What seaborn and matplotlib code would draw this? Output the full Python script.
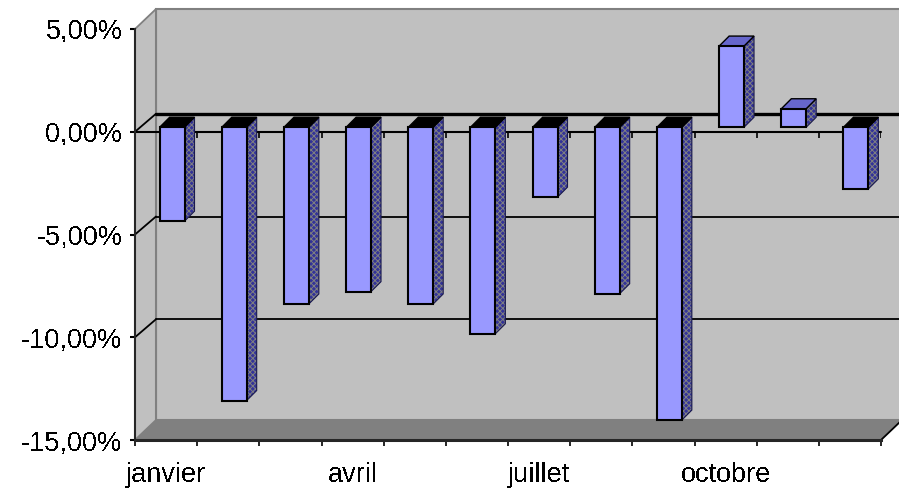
import numpy as np
import matplotlib
matplotlib.use('Agg')
import matplotlib.pyplot as plt
from matplotlib.patches import Polygon
from matplotlib.transforms import Affine2D, IdentityTransform
import seaborn as sns

months = ['janvier', 'février', 'mars', 'avril', 'mai', 'juin', 'juillet',
          'août', 'septembre', 'octobre', 'novembre', 'décembre']
values = [-4.57, -13.3, -8.6, -8.0, -8.6, -10.05, -3.4, -8.1, -14.25, 3.95, 0.9, -3.0]
y_ticks = [5, 0, -5, -10, -15]
y_labels = ['5,00%', '0,00%', '-5,00%', '-10,00%', '-15,00%']
shown_months = ['janvier', 'avril', 'juillet', 'octobre']

sns.set_style('white')
plt.rcParams['font.family'] = ['Liberation Sans', 'DejaVu Sans']
plt.rcParams['text.antialiased'] = False
plt.rcParams['hatch.linewidth'] = 0.7

fig = plt.figure(figsize=(8.99, 4.92), dpi=100, facecolor='white')
ax = fig.add_axes([135 / 899, 52 / 492, 746 / 899, 411 / 492], facecolor='none')

sns.barplot(x=months, y=values, color='#9999ff', width=0.4, saturation=1,
            edgecolor='black', linewidth=1.5, ax=ax, zorder=5)
bars = list(ax.patches)
ax.set_xlim(-0.5, 11.5)
ax.set_ylim(-15, 5)

# 3d box: back wall, left wall and floor
wall = ax.transData + Affine2D().translate(21, 20)
grid = ax.transData + Affine2D().translate(21, 18)
xl, xr = ax.get_xlim()
ax.add_patch(Polygon([(xl, -15), (xr, -15), (xr, 5), (xl, 5)], transform=wall, facecolor='#c0c0c0',
                     edgecolor='#808080', linewidth=1.5, clip_on=False, zorder=0))
corner = lambda x, y, off: ax.transData.transform((x, y)) + off
off = np.array([21, 20])
ax.add_patch(Polygon([corner(xl, -15, 0), corner(xl, 5, 0), corner(xl, 5, off), corner(xl, -15, off)],
                     transform=IdentityTransform(), facecolor='#c0c0c0', edgecolor='none', clip_on=False, zorder=0.5))
ax.add_patch(Polygon([corner(xl, -15, 0), corner(xr, -15, 0), corner(xr, -15, off), corner(xl, -15, off)],
                     transform=IdentityTransform(), facecolor='#808080', edgecolor='none', clip_on=False, zorder=0.5))
ax.plot([xl, xl], [-15, 5], color='#808080', lw=1.5, transform=wall, clip_on=False, zorder=1)

# grid lines on the back wall
ax.plot([xl, xr], [0, 0], color='black', lw=2.4, transform=grid, clip_on=False, zorder=1)
for v in [-5, -10]:
    ax.plot([xl, xr], [v, v], color='black', lw=1.3, transform=grid, clip_on=False, zorder=1)

# diagonals going from the axis to the wall
for v in y_ticks:
    a = corner(xl, v, 0)
    b = corner(xl, v, np.array([21, 18 if v in (0, -5, -10) else 20]))
    col = 'black' if v in (0, -5, -10) else '#808080'
    ax.plot([a[0], b[0]], [a[1], b[1]], color=col, lw=1.3, transform=IdentityTransform(),
            clip_on=False, zorder=1.5)
a = corner(xr, -15, 0)
b = corner(xr, -15, off)
ax.plot([a[0], b[0]], [a[1], b[1]], color='black', lw=1.3, transform=IdentityTransform(), clip_on=False, zorder=1.5)

# front zero line with its ticks
edges = np.arange(13) - 0.5
ax.plot([xl, xr], [0, 0], color='black', lw=1.5, zorder=2, clip_on=False)
ax.vlines(edges[1:], -0.3, 0, color='black', lw=1.2, zorder=2)

# bars: move the seaborn faces forward and add top and side faces
shift = Affine2D().translate(6, 4.5)
depth = 10
for p in bars:
    p.set_transform(ax.transData + shift)
    p.set_clip_on(False)
    x0, x1 = p.get_x(), p.get_x() + p.get_width()
    y0, y1 = sorted([p.get_y(), p.get_y() + p.get_height()])
    tl = (ax.transData + shift).transform((x0, y1))
    br = (ax.transData + shift).transform((x1, y0))
    tr = (ax.transData + shift).transform((x1, y1))
    d = np.array([depth, depth])
    negative = p.get_height() < 0
    # dithered side face, then a thin dark outline on top of it
    ax.add_patch(Polygon([br, tr, tr + d, br + d], transform=IdentityTransform(), facecolor='#333399',
                         edgecolor='#808080', hatch='xxxxxx', linewidth=0, clip_on=False, zorder=4))
    ax.add_patch(Polygon([br, tr, tr + d, br + d], transform=IdentityTransform(), facecolor='none',
                         edgecolor='#1a1a4d', linewidth=0.8, clip_on=False, zorder=4))
    ax.add_patch(Polygon([tl, tr, tr + d, tl + d], transform=IdentityTransform(),
                         facecolor='black' if negative else '#6666cc',
                         edgecolor='black', linewidth=1.0, clip_on=False, zorder=4))

# axes and labels
for s in ['top', 'right']:
    ax.spines[s].set_visible(False)
ax.spines['left'].set_linewidth(1.5)
ax.spines['bottom'].set_linewidth(2.2)
ax.spines['left'].set_zorder(3)
ax.spines['bottom'].set_zorder(3)
ax.set_yticks(y_ticks)
ax.set_yticklabels(y_labels, fontsize=19.5, color='black')
ax.tick_params(axis='y', left=True, length=3.6, width=1.5, pad=5.5, color='black')
ax.set_xticks(edges, minor=True)
ax.set_xticks([months.index(m) for m in shown_months])
ax.set_xticklabels(shown_months, fontsize=19.5, color='black')
ax.tick_params(axis='x', which='major', bottom=False, pad=12.5)
ax.tick_params(axis='x', which='minor', bottom=True, length=4, width=1.2, color='black')
ax.set_xlabel('')
ax.set_ylabel('')

fig.savefig('out.png', dpi=100)
